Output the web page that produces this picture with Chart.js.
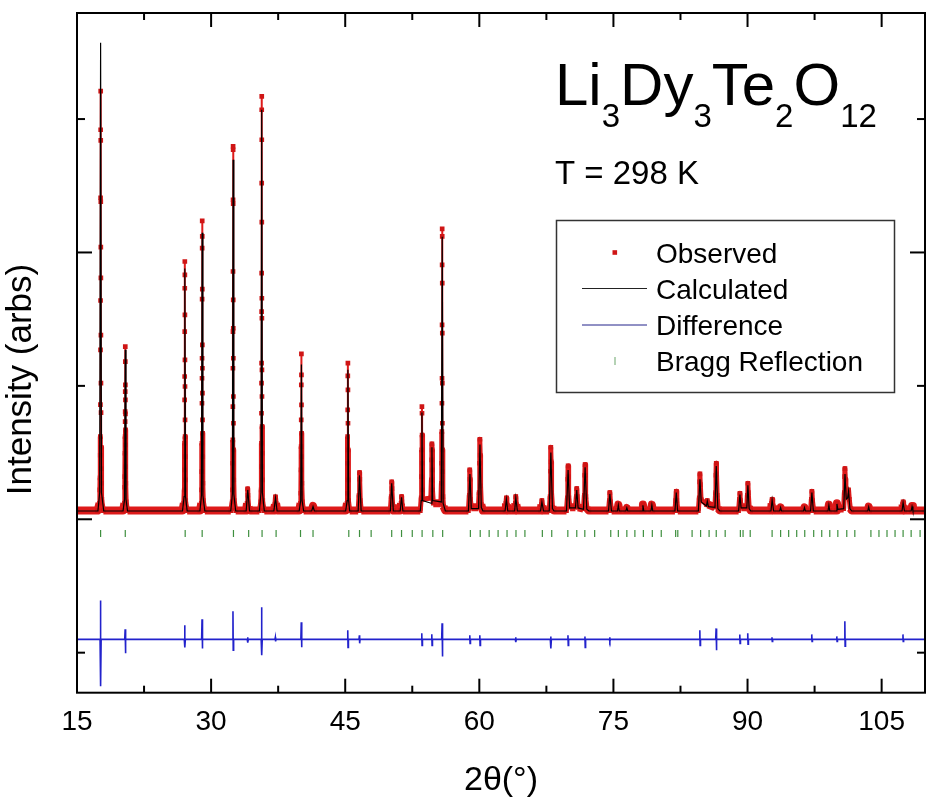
<!DOCTYPE html>
<html><head><meta charset="utf-8">
<script src="https://cdn.jsdelivr.net/npm/chart.js@4.4.1/dist/chart.umd.min.js"></script>
<style>html,body{margin:0;padding:0;background:#fff;}canvas{display:block;}</style>
</head><body>
<canvas id="c" width="927" height="802"></canvas>
<script>
// ---- data (2θ in degrees, intensity in arbitrary units) ----
const xTickValues = [15, 30, 45, 60, 75, 90, 105];
const xMinorTicks = [22.5, 37.5, 52.5, 67.5, 82.5, 97.5];
const yMajorTicks = [0, 2000];
const yMinorTicks = [-1000, 1000, 3000];

const observed = [
 [15.0,65],[17.30,65],
 [17.52,120],[17.56,220],[17.58,310],[17.60,480],[17.61,620],[17.62,860],[17.63,1270],[17.635,1640],[17.64,2410],[17.645,2920],[17.65,3210],[17.655,2840],[17.66,2380],[17.665,2040],[17.67,1810],[17.675,1380],[17.68,1020],[17.69,800],[17.70,540],[17.72,380],[17.74,270],[17.78,150],[17.95,65],
 [20.15,65],[20.30,120],[20.34,240],[20.36,320],[20.37,495],[20.38,620],[20.385,732],[20.39,807],[20.395,957],[20.40,1294],[20.405,1182],[20.41,1007],[20.415,895],[20.42,790],[20.425,670],[20.43,557],[20.44,395],[20.46,270],[20.50,130],[20.65,65],
 [26.80,65],[26.95,120],[27.00,220],[27.02,370],[27.03,570],[27.04,895],[27.045,1070],[27.05,1407],[27.055,1732],[27.06,1932],[27.065,1832],[27.07,1532],[27.075,1195],[27.08,995],[27.085,745],[27.09,620],[27.10,470],[27.12,295],[27.16,140],[27.32,65],
 [28.75,65],[28.90,120],[28.94,220],[28.96,357],[28.97,570],[28.98,870],[28.985,1057],[28.99,1207],[28.995,1650],[29.00,2032],[29.005,2237],[29.01,2120],[29.015,1725],[29.02,1307],[29.025,1132],[29.03,945],[29.04,745],[29.05,645],[29.06,470],[29.08,270],[29.12,140],[29.30,65],
 [32.20,65],[32.36,130],[32.40,220],[32.42,420],[32.43,595],[32.435,845],[32.44,1132],[32.445,1407],[32.45,1857],[32.455,2395],[32.46,2795],[32.465,2770],[32.47,2365],[32.475,1645],[32.48,1432],[32.485,1207],[32.49,920],[32.50,720],[32.51,520],[32.53,295],[32.58,140],[32.75,65],
 [33.90,65],[34.02,120],[34.08,228],[34.12,180],[34.20,90],[34.35,65],
 [35.40,65],[35.56,130],[35.60,220],[35.62,395],[35.63,570],[35.635,795],[35.64,1020],[35.645,1170],[35.65,1557],[35.655,1845],[35.66,2520],[35.662,3070],[35.665,3170],[35.668,2845],[35.67,2227],[35.675,1657],[35.68,1507],[35.685,1120],[35.69,920],[35.70,695],[35.71,495],[35.73,295],[35.78,140],[35.95,65],
 [37.00,65],[37.14,110],[37.20,168],[37.26,120],[37.40,65],
 [39.85,65],[40.00,120],[40.04,195],[40.06,370],[40.07,545],[40.08,745],[40.09,1007],[40.10,1240],[40.105,1082],[40.11,857],[40.12,645],[40.13,470],[40.15,270],[40.20,130],[40.35,65],
 [41.25,65],[41.40,100],[41.55,65],
 [45.05,65],[45.20,120],[45.24,195],[45.26,420],[45.27,620],[45.28,820],[45.29,1075],[45.30,1170],[45.305,970],[45.31,720],[45.32,520],[45.34,295],[45.38,140],[45.50,65],
 [46.45,65],[46.55,180],[46.60,350],[46.63,300],[46.68,140],[46.80,65],
 [50.05,65],[50.15,170],[50.20,280],[50.23,230],[50.30,110],[50.40,65],
 [51.15,65],[51.25,120],[51.30,170],[51.34,130],[51.45,65],
 [53.40,65],[53.50,160],[53.54,320],[53.56,520],[53.58,845],[53.59,795],[53.60,632],[53.62,420],[53.65,220],[53.68,150],
 [54.58,160],[54.64,295],[54.68,445],[54.70,565],[54.72,520],[54.74,370],[54.78,220],[54.85,120],
 [55.70,120],[55.76,270],[55.79,420],[55.81,657],[55.82,870],[55.83,1057],[55.835,1457],[55.84,1907],[55.845,2177],[55.85,2120],[55.855,1770],[55.86,1395],[55.865,1020],[55.87,720],[55.88,520],[55.90,357],[55.93,170],[56.00,95],[56.20,65],
 [58.78,65],[58.88,180],[58.93,370],[58.96,300],[59.00,150],[59.10,90],
 [59.90,90],[59.98,200],[60.03,420],[60.07,600],[60.10,480],[60.14,250],[60.22,110],[60.40,65],
 [62.88,65],[62.98,120],[63.03,160],[63.08,110],[63.20,65],
 [63.95,65],[64.03,120],[64.08,170],[64.14,110],[64.28,65],
 [66.85,65],[66.95,110],[67.00,140],[67.06,100],[67.20,65],
 [67.82,65],[67.92,170],[67.97,360],[68.00,540],[68.03,430],[68.08,200],[68.18,90],[68.35,65],
 [69.75,65],[69.85,160],[69.90,300],[69.93,400],[69.96,320],[70.02,160],[70.15,90],
 [70.75,90],[70.85,170],[70.90,230],[70.95,170],[71.05,90],
 [71.65,80],[71.75,180],[71.80,330],[71.83,410],[71.86,330],[71.92,170],[72.05,80],[72.25,65],
 [74.45,65],[74.55,140],[74.60,200],[74.66,130],[74.80,65],
 [75.45,65],[75.55,110],[75.65,65],
 [76.40,65],[76.50,85],[76.60,65],
 [78.20,65],[78.30,110],[78.40,65],
 [79.20,65],[79.30,110],[79.40,65],
 [81.88,65],[81.97,140],[82.03,210],[82.09,140],[82.20,65],
 [84.50,65],[84.60,160],[84.65,280],[84.68,340],[84.72,260],[84.80,150],
 [85.42,110],[85.50,140],[85.58,110],
 [86.35,90],[86.43,200],[86.47,330],[86.50,420],[86.53,340],[86.60,180],[86.72,80],[86.90,65],
 [89.00,65],[89.10,150],[89.15,195],[89.20,140],[89.30,90],
 [89.92,90],[89.98,180],[90.04,270],[90.08,200],[90.18,90],[90.35,65],
 [92.62,65],[92.70,120],[92.75,150],[92.82,100],[92.95,65],
 [93.60,65],[93.70,90],[93.80,65],
 [96.27,65],[96.37,90],[96.47,65],
 [97.05,65],[97.14,150],[97.20,210],[97.26,140],[97.40,65],
 [99.00,65],[99.10,110],[99.20,65],
 [99.90,65],[100.00,120],[100.10,80],
 [100.75,80],[100.83,200],[100.87,320],[100.90,380],[100.94,300],[101.00,180],
 [101.22,170],[101.30,220],[101.38,150],[101.50,80],[101.65,65],
 [103.45,65],[103.55,95],[103.65,65],
 [107.28,65],[107.35,110],[107.40,130],[107.46,100],[107.58,65],
 [108.30,65],[108.40,100],[108.50,65],
 [109.85,65]
];

const calculated = [
 [15,62],
 [17.34,62],[17.54,200],[17.64,3572],[17.74,200],[17.99,62],
 [20.15,62],[20.32,150],[20.40,1270],[20.48,150],[20.65,62],
 [26.80,62],[26.98,170],[27.06,1880],[27.14,170],[27.32,62],
 [28.75,62],[28.92,180],[29.00,2147],[29.08,180],[29.30,62],
 [32.20,62],[32.38,190],[32.46,2695],[32.54,190],[32.75,62],
 [33.92,62],[34.10,220],[34.30,62],
 [35.40,62],[35.58,200],[35.66,3070],[35.74,200],[35.95,62],
 [37.02,62],[37.20,160],[37.38,62],
 [39.85,62],[40.02,140],[40.10,1160],[40.18,140],[40.35,62],
 [41.25,62],[41.40,95],[41.55,62],
 [45.05,62],[45.22,140],[45.30,1120],[45.38,140],[45.50,62],
 [46.45,62],[46.60,330],[46.78,62],
 [50.05,62],[50.20,270],[50.38,62],
 [51.15,62],[51.30,165],[51.45,62],
 [53.40,62],[53.50,140],[53.58,800],[53.66,140],
 [54.60,120],[54.70,540],[54.78,140],
 [55.75,130],[55.85,2117],[55.95,120],[56.20,62],
 [58.78,62],[58.95,340],[59.10,80],
 [59.92,80],[60.07,560],[60.22,90],[60.40,62],
 [62.88,62],[63.03,150],[63.18,62],
 [63.95,62],[64.08,160],[64.26,62],
 [66.85,62],[67.00,130],[67.18,62],
 [67.82,62],[68.00,500],[68.18,80],[68.35,62],
 [69.75,62],[69.93,370],[70.10,85],
 [70.75,85],[70.90,220],[71.05,85],
 [71.65,75],[71.83,390],[72.02,75],[72.25,62],
 [74.45,62],[74.60,190],[74.78,62],
 [75.45,62],[75.55,105],[75.65,62],
 [76.40,62],[76.50,85],[76.60,62],
 [78.20,62],[78.30,105],[78.40,62],
 [79.20,62],[79.30,105],[79.40,62],
 [81.88,62],[82.03,200],[82.18,62],
 [84.50,62],[84.68,300],[84.82,130],
 [85.40,100],[85.50,135],[85.62,95],
 [86.36,90],[86.50,400],[86.68,80],[86.90,62],
 [89.00,62],[89.15,185],[89.28,85],
 [89.92,85],[90.04,255],[90.18,80],[90.35,62],
 [92.62,62],[92.75,145],[92.92,62],
 [93.60,62],[93.70,88],[93.80,62],
 [96.27,62],[96.37,88],[96.47,62],
 [97.05,62],[97.20,200],[97.36,62],
 [99.00,62],[99.10,105],[99.20,62],
 [99.90,62],[100.00,115],[100.10,75],
 [100.76,80],[100.90,340],[101.04,150],
 [101.20,160],[101.30,210],[101.45,80],[101.65,62],
 [103.45,62],[103.55,92],[103.65,62],
 [107.28,62],[107.40,125],[107.55,62],
 [108.30,62],[108.40,95],[108.50,62],
 [109.85,62]
];

const difference = [
 [15,-900],
 [17.58,-900],[17.625,-608],[17.655,-1252],[17.70,-900],
 [20.34,-900],[20.385,-825],[20.415,-1005],[20.46,-900],
 [27.00,-900],[27.045,-795],[27.075,-960],[27.12,-900],
 [28.94,-900],[28.985,-750],[29.015,-968],[29.06,-900],
 [32.40,-900],[32.445,-690],[32.475,-982],[32.52,-900],
 [34.04,-900],[34.085,-885],[34.115,-925],[34.16,-900],
 [35.60,-900],[35.645,-660],[35.675,-1020],[35.72,-900],
 [37.14,-900],[37.185,-885],[37.215,-915],[37.26,-900],
 [40.04,-900],[40.085,-772],[40.115,-960],[40.16,-900],
 [45.24,-900],[45.285,-832],[45.315,-960],[45.36,-900],
 [46.54,-900],[46.585,-870],[46.615,-930],[46.66,-900],
 [53.52,-900],[53.565,-855],[53.595,-945],[53.64,-900],
 [54.64,-900],[54.685,-862],[54.715,-945],[54.76,-900],
 [55.79,-900],[55.835,-780],[55.865,-1028],[55.91,-900],
 [58.89,-900],[58.935,-870],[58.965,-930],[59.01,-900],
 [60.01,-900],[60.055,-870],[60.085,-945],[60.13,-900],
 [64.02,-900],[64.065,-885],[64.095,-920],[64.14,-900],
 [67.94,-900],[67.985,-878],[68.015,-968],[68.06,-900],
 [69.87,-900],[69.915,-870],[69.945,-945],[69.99,-900],
 [71.77,-900],[71.815,-878],[71.845,-960],[71.89,-900],
 [74.54,-900],[74.585,-885],[74.615,-915],[74.66,-900],
 [84.62,-900],[84.665,-832],[84.695,-945],[84.74,-900],
 [86.44,-900],[86.485,-818],[86.515,-982],[86.56,-900],
 [89.09,-900],[89.135,-863],[89.165,-930],[89.21,-900],
 [89.98,-900],[90.025,-855],[90.055,-937],[90.10,-900],
 [92.69,-900],[92.735,-885],[92.765,-915],[92.81,-900],
 [97.14,-900],[97.185,-863],[97.215,-915],[97.26,-900],
 [99.94,-900],[99.985,-878],[100.015,-915],[100.06,-900],
 [100.84,-900],[100.885,-765],[100.915,-952],[100.96,-900],
 [107.34,-900],[107.385,-863],[107.415,-915],[107.46,-900],
 [109.85,-900]
];

const braggPositions = [17.64,20.4,27.1,29.0,32.5,34.2,35.7,37.27,40.0,41.4,45.4,46.6,47.9,50.2,51.3,52.5,53.6,54.8,55.9,
 59.0,60.1,61.1,62.1,63.1,64.1,65.1,67.05,68.1,69.9,70.9,71.8,72.9,74.7,75.55,76.5,77.4,78.35,79.35,80.35,81.96,82.2,
 83.8,84.75,85.7,86.5,87.5,89.2,89.5,90.3,92.75,93.7,94.6,95.5,96.4,97.4,98.3,99.2,100.1,101.1,102.0,
 103.8,104.7,105.6,106.5,107.4,108.3,109.3];
const braggLevel = -106;

const seriesLabels = ['Observed', 'Calculated', 'Difference', 'Bragg Reflection'];
const formula = [['Li', false], ['3', true], ['Dy', false], ['3', true], ['Te', false], ['2', true], ['O', false], ['12', true]];
const temperatureText = 'T = 298 K';
const xTitle = '2θ(°)';
const yTitle = 'Intensity (arbs)';

// ---- rendering ----
const FONT = '"Liberation Sans", Arial, Helvetica, sans-serif';
Chart.defaults.font.family = FONT;
const RED = '#de1a1a', RED_PT = '#cf1515', BLUE = '#2222cc', GREEN = '#3f8f3f';

const decor = {
  id: 'decor',
  beforeDraw(chart) {
    const ctx = chart.ctx;
    ctx.save(); ctx.fillStyle = '#fff'; ctx.fillRect(0, 0, chart.width, chart.height); ctx.restore();
  },
  afterDraw(chart) {
    const ctx = chart.ctx;
    const {left, right, top, bottom} = chart.chartArea;
    const xs = chart.scales.x, ys = chart.scales.y;
    ctx.save();
    ctx.strokeStyle = '#000'; ctx.lineWidth = 2;
    ctx.strokeRect(left, top, right - left, bottom - top);
    const seg = (x1, y1, x2, y2) => { ctx.beginPath(); ctx.moveTo(x1, y1); ctx.lineTo(x2, y2); ctx.stroke(); };
    xTickValues.forEach(v => { const p = xs.getPixelForValue(v); seg(p, bottom, p, bottom - 14); seg(p, top, p, top + 14); });
    xMinorTicks.forEach(v => { const p = xs.getPixelForValue(v); seg(p, bottom, p, bottom - 7); seg(p, top, p, top + 7); });
    yMajorTicks.forEach(v => { const p = ys.getPixelForValue(v); seg(left, p, left + 15, p); seg(right, p, right - 15, p); });
    yMinorTicks.forEach(v => { const p = ys.getPixelForValue(v); seg(left, p, left + 8, p); seg(right, p, right - 8, p); });

    // formula title
    ctx.fillStyle = '#000'; ctx.textAlign = 'left'; ctx.textBaseline = 'alphabetic';
    let x = 555;
    formula.forEach(([t, sub]) => {
      ctx.font = (sub ? '33px ' : '60px ') + FONT;
      ctx.fillText(t, x, sub ? 127 : 105);
      x += ctx.measureText(t).width;
    });
    ctx.font = '33px ' + FONT;
    ctx.fillText(temperatureText, 555, 183.5);

    // legend box
    ctx.strokeStyle = '#333'; ctx.lineWidth = 1.5;
    ctx.strokeRect(556.5, 220.5, 338, 172);
    const rows = [252.5, 288.5, 325, 361];
    ctx.font = '28px ' + FONT;
    ctx.fillStyle = '#000';
    seriesLabels.forEach((lab, i) => ctx.fillText(lab, 656, rows[i] + 10));
    ctx.fillStyle = RED_PT; ctx.fillRect(612.5, rows[0] - 2.3, 4.6, 4.6);
    ctx.lineWidth = 1;
    ctx.strokeStyle = '#222'; seg(582, rows[1], 647, rows[1]);
    ctx.strokeStyle = '#22228a'; seg(582, rows[2], 647, rows[2]);
    ctx.strokeStyle = '#6aa56a'; seg(615, rows[3] - 4, 615, rows[3] + 4);

    // axis titles
    ctx.fillStyle = '#000';
    ctx.font = '34px ' + FONT; ctx.textAlign = 'center';
    ctx.fillText(xTitle, (left + right) / 2, 790);
    ctx.translate(31, 379.5); ctx.rotate(-Math.PI / 2);
    ctx.font = '35px ' + FONT;
    ctx.fillText(yTitle, 0, 0);
    ctx.restore();
  }
};

new Chart(document.getElementById('c'), {
  type: 'line',
  data: {
    datasets: [
      { label: seriesLabels[0], data: observed, order: 3, borderColor: RED, borderWidth: 2,
        borderJoinStyle: 'round', borderCapStyle: 'butt',
        pointStyle: 'rect', pointRadius: 3.3, pointBackgroundColor: RED_PT, pointBorderWidth: 0,
        segment: { borderWidth: c => {
          const m = Math.max(c.p0.parsed.y, c.p1.parsed.y);
          return m < 130 ? 8 : (m < 700 ? 5 : 2);
        } } },
      { label: seriesLabels[1], data: calculated, order: 1, borderColor: '#000', borderWidth: 1.2, pointRadius: 0 },
      { label: seriesLabels[2], data: difference, order: 2, borderColor: BLUE, borderWidth: 1.6, pointRadius: 0 },
      { label: seriesLabels[3], data: braggPositions.map(p => ({x: p, y: braggLevel})), order: 0, showLine: false,
        pointStyle: 'line', rotation: 90, pointRadius: 3.5, borderColor: GREEN, pointBorderColor: GREEN, pointBorderWidth: 1.2 }
    ]
  },
  options: {
    responsive: false, animation: false, devicePixelRatio: 1,
    layout: { autoPadding: false, padding: { top: 13, right: 2, left: 0, bottom: 0 } },
    plugins: { legend: { display: false }, tooltip: { enabled: false } },
    elements: { line: { tension: 0 } },
    scales: {
      x: { type: 'linear', min: 15, max: 109.85,
           grid: { display: false }, border: { display: false },
           afterBuildTicks: s => { s.ticks = xTickValues.map(v => ({ value: v })); },
           afterFit: s => { s.height = 109.3; s.paddingLeft = 0; s.paddingRight = 0; },
           ticks: { autoSkip: false, maxRotation: 0, padding: 5, color: '#000', font: { size: 28 } } },
      y: { type: 'linear', min: -1300, max: 3795,
           grid: { display: false }, border: { display: false },
           ticks: { display: false },
           afterFit: s => { s.width = 77; } }
    }
  },
  plugins: [decor]
});
</script>
</body></html>
